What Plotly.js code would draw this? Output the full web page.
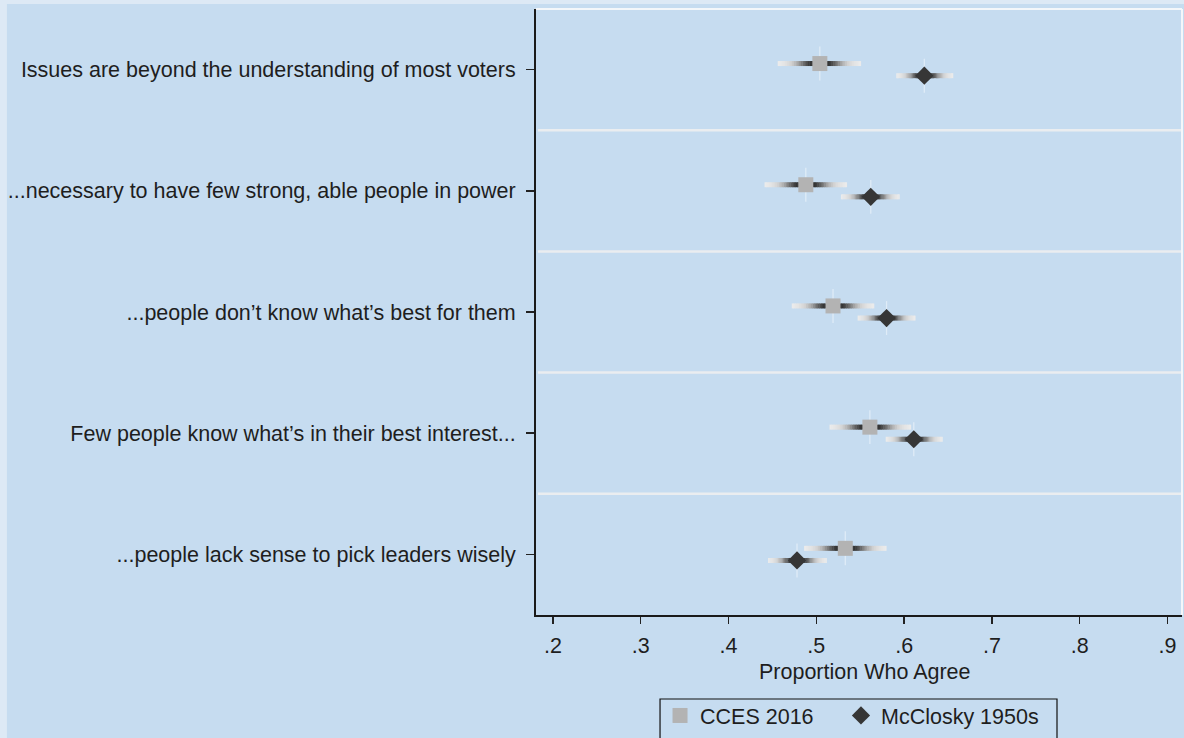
<!DOCTYPE html>
<html>
<head>
<meta charset="utf-8">
<script src="https://cdn.plot.ly/plotly-3.0.1.min.js"></script>
<style>
  html, body { margin: 0; padding: 0; background: #dde9f5; }
  #chart { width: 1184px; height: 738px; }
</style>
</head>
<body>
<div id="chart"></div>
<script>
// Survey items (top to bottom)
const items = [
  "Issues are beyond the understanding of most voters",
  "...necessary to have few strong, able people in power",
  "...people don\u2019t know what\u2019s best for them",
  "Few people know what\u2019s in their best interest...",
  "...people lack sense to pick leaders wisely"
];

// CCES 2016: proportion agreeing with 95% interval
const ccesMean = [0.504, 0.488, 0.519, 0.561, 0.533];
const ccesLow  = [0.456, 0.441, 0.472, 0.515, 0.486];
const ccesHigh = [0.551, 0.535, 0.566, 0.608, 0.580];

// McClosky 1950s: proportion agreeing with 95% interval
const mccMean = [0.623, 0.562, 0.580, 0.611, 0.478];
const mccLow  = [0.591, 0.528, 0.547, 0.579, 0.445];
const mccHigh = [0.656, 0.595, 0.613, 0.644, 0.512];

// x-axis ticks
const xTickVals = [0.2, 0.3, 0.4, 0.5, 0.6, 0.7, 0.8, 0.9];
const xTickText = [".2", ".3", ".4", ".5", ".6", ".7", ".8", ".9"];

const FONT = "Liberation Sans, Arial, Helvetica, sans-serif";
const FS = 21.5;
const TEXT = "#1e1e1e";
const BG = "#c6dcf0";

// Interval bars fade from dark next to the marker to pale grey at the ends
const stops = [[0, [46,46,46]], [0.25, [54,54,54]], [0.4, [110,110,110]],
               [0.55, [173,173,173]], [0.7, [212,212,212]], [0.85, [228,228,228]], [1, [236,236,236]]];
function shade(t) {
  for (let i = 1; i < stops.length; i++) {
    if (t <= stops[i][0]) {
      const [t0, c0] = stops[i - 1], [t1, c1] = stops[i];
      const f = (t - t0) / (t1 - t0);
      const c = c0.map((v, k) => Math.round(v + (c1[k] - v) * f));
      return `rgb(${c[0]},${c[1]},${c[2]})`;
    }
  }
  const c = stops[stops.length - 1][1];
  return `rgb(${c[0]},${c[1]},${c[2]})`;
}

const NSEG = 24;
function intervalTraces(mean, low, high, dy) {
  const out = [];
  for (let k = 0; k < NSEG; k++) {
    const t0 = Math.max(0, k / NSEG - 0.012), t1 = (k + 1) / NSEG;
    const x = [], y = [];
    mean.forEach((m, i) => {
      const yy = i + dy;
      x.push(m - t0 * (m - low[i]), m - t1 * (m - low[i]), null);
      y.push(yy, yy, null);
      x.push(m + t0 * (high[i] - m), m + t1 * (high[i] - m), null);
      y.push(yy, yy, null);
    });
    out.push({
      x, y, type: "scatter", mode: "lines", hoverinfo: "skip", showlegend: false,
      line: { color: shade((k + 0.5) / NSEG), width: 5 }
    });
  }
  return out;
}

// thin pale vertical stroke through each estimate
function tickTrace(mean, dy) {
  const x = [], y = [];
  mean.forEach((m, i) => { x.push(m, m, null); y.push(i + dy - 0.14, i + dy + 0.14, null); });
  return { x, y, type: "scatter", mode: "lines", hoverinfo: "skip", showlegend: false,
           line: { color: "rgba(240,246,252,0.6)", width: 1.3 } };
}

const DY = 0.05;
const yIdx = items.map((_, i) => i);

const traces = [
  ...intervalTraces(ccesMean, ccesLow, ccesHigh, -DY),
  ...intervalTraces(mccMean, mccLow, mccHigh, DY),
  tickTrace(ccesMean, -DY),
  tickTrace(mccMean, DY),
  {
    name: "CCES 2016", x: ccesMean, y: yIdx.map(i => i - DY),
    type: "scatter", mode: "markers", legend: "legend",
    marker: { symbol: "square", size: 15, color: "#b3b3b3", line: { width: 0 } }
  },
  {
    name: "McClosky 1950s", x: mccMean, y: yIdx.map(i => i + DY),
    type: "scatter", mode: "markers", legend: "legend2",
    marker: { symbol: "diamond", size: 14, color: "#363636", line: { width: 0 } }
  }
];

// page panel, row separators, pale frame on the open sides, legend frame
const shapes = [
  { type: "rect", xref: "paper", yref: "paper", x0: -0.819, x1: 1.2, y0: -0.4, y1: 1.0083,
    fillcolor: BG, line: { width: 0 }, layer: "below" }
];
for (let i = 0; i < items.length - 1; i++) {
  shapes.push({ type: "line", xref: "paper", yref: "y", x0: 0.003, x1: 1, y0: i + 0.5, y1: i + 0.5,
                line: { color: "#eaedf0", width: 2.5 }, layer: "below" });
}
shapes.push({ type: "line", xref: "paper", yref: "paper", x0: 0, x1: 1, y0: 1, y1: 1,
              line: { color: "#f4f7fa", width: 2 } });
shapes.push({ type: "line", xref: "paper", yref: "paper", x0: 1, x1: 1, y0: 0, y1: 1,
              line: { color: "#f4f7fa", width: 2 } });
shapes.push({ type: "rect", xref: "paper", yref: "paper", x0: 0.1920, x1: 0.8065, y0: -0.1386, y1: -0.26,
              line: { color: "#111", width: 1.2 }, fillcolor: "rgba(0,0,0,0)" });

const legendBase = {
  orientation: "h", xanchor: "left", y: -0.132, yanchor: "top",
  bgcolor: "rgba(0,0,0,0)", borderwidth: 0,
  font: { family: FONT, size: FS, color: TEXT }
};

const layout = {
  width: 1184, height: 738,
  margin: { l: 536, r: 2, t: 9, b: 123, pad: 0, autoexpand: false },
  paper_bgcolor: "#dde9f5",
  plot_bgcolor: BG,
  font: { family: FONT, size: FS, color: TEXT },
  showlegend: true,
  xaxis: {
    range: [0.1807, 0.9165], tickvals: xTickVals, ticktext: xTickText,
    showgrid: false, zeroline: false, showline: true, linecolor: "#1a1a1a", linewidth: 2,
    ticks: "outside", ticklen: 7, tickwidth: 1.5, tickcolor: "#222",
    tickfont: { family: FONT, size: FS, color: TEXT }, ticklabelstandoff: 3
  },
  yaxis: {
    range: [4.5, -0.5], tickvals: yIdx, ticktext: items,
    showgrid: false, zeroline: false, showline: true, linecolor: "#1a1a1a", linewidth: 2,
    ticks: "outside", ticklen: 8, tickwidth: 1.5, tickcolor: "#222",
    tickfont: { family: FONT, size: FS, color: TEXT }, ticklabelstandoff: 6
  },
  legend: Object.assign({}, legendBase, { x: 0.1920 }),
  legend2: Object.assign({}, legendBase, { x: 0.4721 }),
  annotations: [{
    text: "Proportion Who Agree", xref: "paper", yref: "paper",
    x: 0.509, y: -0.094, xanchor: "center", yanchor: "middle", showarrow: false,
    font: { family: FONT, size: FS, color: TEXT }
  }],
  shapes
};

Plotly.newPlot("chart", traces, layout, { displayModeBar: false, staticPlot: true });
</script>
</body>
</html>
